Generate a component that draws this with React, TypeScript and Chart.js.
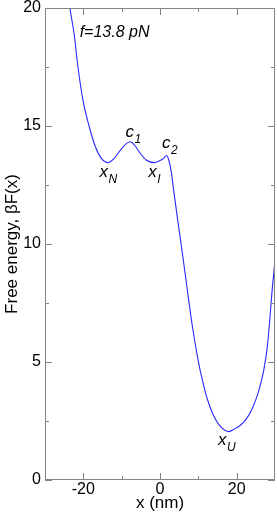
import React, { useEffect, useRef } from "react";
import { Chart, registerables } from "chart.js";

Chart.register(...registerables);

// Reaction coordinate x (nm) and free energy βF(x)
const positions = [
  -24.5, -23.5, -22.4, -21.4, -20.1, -18.5, -16.8, -15.3, -13.5, -12.0, -10.6,
  -9.0, -7.8, -6.6, -5.4, -3.6, -1.5, 0.3, 1.0, 1.7, 2.3, 2.9, 3.7, 5.5, 6.6,
  7.5, 8.5, 9.8, 11.1, 12.4, 13.7, 15.8, 18.0, 19.3, 20.8, 22.3, 24.0, 25.8,
  27.0, 28.0, 29.4, 30.0,
];
const freeEnergy = [
  21.3, 20.0, 18.9, 17.5, 16.1, 15.0, 14.1, 13.63, 13.45, 13.62, 13.92, 14.22,
  14.33, 14.18, 13.9, 13.56, 13.45, 13.56, 13.64, 13.75, 13.55, 13.1, 12.1,
  10.0, 8.7, 7.6, 6.45, 5.2, 4.2, 3.4, 2.83, 2.26, 2.05, 2.15, 2.3, 2.54, 3.0,
  3.8, 4.6, 5.65, 8.3, 9.3,
];

const xTickValues = [-20, 0, 20];
const xMinorTickValues = [-10, 10];
const yTickValues = [0, 5, 10, 15, 20];
const yMinorTickValues = [2.5, 7.5, 12.5, 17.5];

// Annotation labels (main italic letter + subscript) anchored in data coords
const labelMain = ["c", "c", "x", "x", "x"];
const labelSub = ["1", "2", "N", "I", "U"];
const labelX = [-9.0, 0.52, -15.77, -3.04, 15.15];
const labelY = [14.53, 14.07, 12.84, 12.84, 1.48];

const forceText = "f=13.8 pN";
const forceX = -20.96;
const forceY = 18.77;

const FONT = "'Liberation Sans', Arial, Helvetica, sans-serif";
const GRAY = "#848484";

const framePlugin = {
  id: "frame",
  afterDatasetsDraw(chart: any) {
    const { ctx, chartArea: a, scales } = chart;
    const xs = scales.x;
    const ys = scales.y;
    ctx.save();
    ctx.strokeStyle = GRAY;
    ctx.lineWidth = 1;
    ctx.strokeRect(a.left + 0.5, a.top + 0.5, a.right - a.left - 1, a.bottom - a.top - 1);
    const major = 7;
    const minor = 4;
    ctx.beginPath();
    const vt = (vals: number[], len: number) => {
      vals.forEach((v) => {
        const px = Math.round(xs.getPixelForValue(v)) + 0.5;
        ctx.moveTo(px, a.bottom);
        ctx.lineTo(px, a.bottom - len);
        ctx.moveTo(px, a.top);
        ctx.lineTo(px, a.top + len);
      });
    };
    const ht = (vals: number[], len: number) => {
      vals.forEach((v) => {
        const py = Math.round(ys.getPixelForValue(v)) + 0.5;
        ctx.moveTo(a.left, py);
        ctx.lineTo(a.left + len, py);
        ctx.moveTo(a.right, py);
        ctx.lineTo(a.right - len, py);
      });
    };
    vt(xTickValues, major);
    vt(xMinorTickValues, minor);
    ht(yTickValues, major);
    ht(yMinorTickValues, minor);
    ctx.stroke();

    ctx.fillStyle = "#000";
    ctx.textAlign = "left";
    ctx.textBaseline = "alphabetic";
    ctx.font = `italic 16px ${FONT}`;
    ctx.fillText(forceText, xs.getPixelForValue(forceX), ys.getPixelForValue(forceY));

    for (let i = 0; i < labelMain.length; i++) {
      const px = xs.getPixelForValue(labelX[i]);
      const py = ys.getPixelForValue(labelY[i]);
      ctx.font = `italic 17px ${FONT}`;
      ctx.fillText(labelMain[i], px, py);
      const w = ctx.measureText(labelMain[i]).width;
      ctx.font = `italic 12px ${FONT}`;
      ctx.fillText(labelSub[i], px + w + 0.5, py + 6);
    }
    ctx.restore();
  },
};

export default function App() {
  const ref = useRef<HTMLCanvasElement | null>(null);
  useEffect(() => {
    if (!ref.current) return;
    const chart = new Chart(ref.current, {
      type: "line",
      data: {
        datasets: [
          {
            data: positions.map((x, i) => ({ x, y: freeEnergy[i] })),
            borderColor: "#2a2aff",
            borderWidth: 1.1,
            pointRadius: 0,
            cubicInterpolationMode: "monotone",
            fill: false,
          },
        ],
      },
      options: {
        animation: false,
        responsive: false,
        events: [],
        layout: { padding: { top: 8, right: 2, left: 0, bottom: 0 } },
        plugins: { legend: { display: false }, tooltip: { enabled: false } },
        scales: {
          x: {
            type: "linear",
            min: -30,
            max: 30,
            afterBuildTicks: (s: any) => {
              s.ticks = xTickValues.map((v) => ({ value: v }));
            },
            afterFit: (s: any) => {
              s.height = 38;
              s.paddingLeft = 0;
              s.paddingRight = 0;
              s.paddingTop = 0;
              s.paddingBottom = 0;
            },
            grid: { display: false, drawTicks: false, tickLength: 0 },
            border: { display: false },
            ticks: {
              font: { family: FONT, size: 16 },
              color: "#000",
              padding: 0,
              maxRotation: 0,
            },
            title: {
              display: true,
              text: "x (nm)",
              font: { family: FONT, size: 17 },
              color: "#000",
              padding: { top: 0, bottom: 4 },
            },
          },
          y: {
            type: "linear",
            min: 0,
            max: 20,
            afterBuildTicks: (s: any) => {
              s.ticks = yTickValues.map((v) => ({ value: v }));
            },
            afterFit: (s: any) => {
              s.width = 45;
              s.paddingLeft = 0;
              s.paddingRight = 0;
              s.paddingTop = 0;
              s.paddingBottom = 0;
            },
            grid: { display: false, drawTicks: false, tickLength: 0 },
            border: { display: false },
            ticks: {
              font: { family: FONT, size: 16 },
              color: "#000",
              padding: 4,
            },
            title: {
              display: true,
              text: "Free energy, βF(x)",
              font: { family: FONT, size: 17 },
              color: "#000",
              padding: { top: 2, bottom: 0 },
            },
          },
        },
      },
      plugins: [framePlugin],
    });
    return () => chart.destroy();
  }, []);
  return (
    <div style={{ position: "fixed", left: 0, top: 0, width: 277, height: 518, background: "#fff" }}>
      <canvas ref={ref} width={277} height={518} style={{ display: "block" }} />
    </div>
  );
}
